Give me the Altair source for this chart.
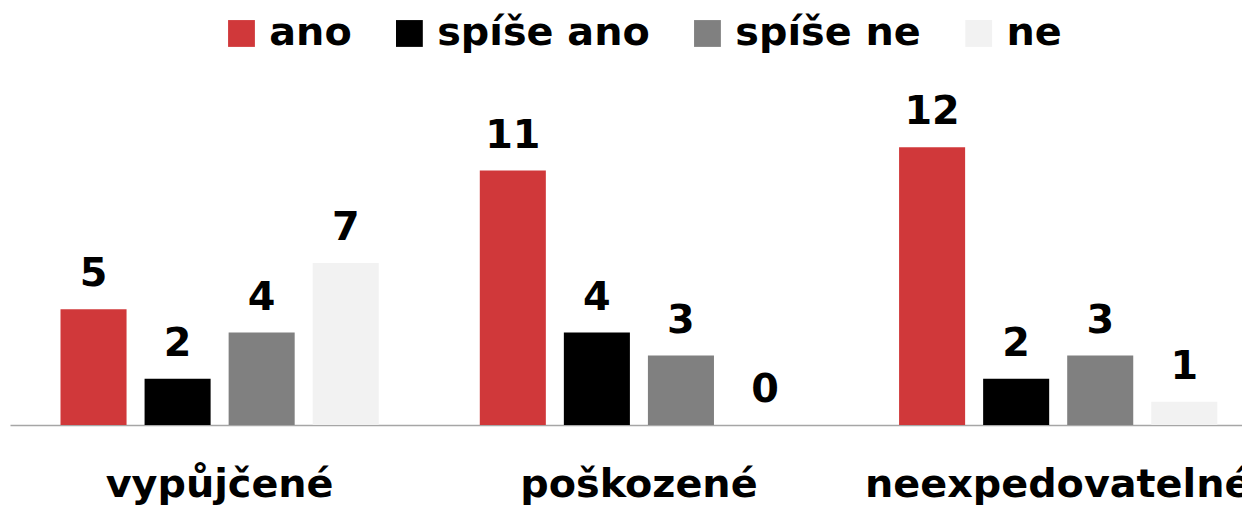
import altair as alt
import pandas as pd

categories = ["vypůjčené", "poškozené", "neexpedovatelné"]
series = ["ano", "spíše ano", "spíše ne", "ne"]
ano = [5, 11, 12]
spise_ano = [2, 4, 2]
spise_ne = [4, 3, 3]
ne = [7, 0, 1]
colors = ["#d0383a", "#000000", "#808080", "#f2f2f2"]

rows = []
for i, c in enumerate(categories):
    for s, vals in zip(series, [ano, spise_ano, spise_ne, ne]):
        rows.append({"kategorie": c, "odpoved": s, "pocet": vals[i]})
df = pd.DataFrame(rows)

FONT = "DejaVu Sans"
FS = 40

x = alt.X(
    "kategorie:N",
    sort=categories,
    scale=alt.Scale(range=[0, 1266], paddingInner=0, paddingOuter=0),
    axis=alt.Axis(
        title=None, labelAngle=0, ticks=False, labelPadding=40,
        labelFontSize=FS, labelFont=FONT, labelFontWeight="bold",
        labelColor="black", domainColor="#a6a6a6", domainWidth=1.5,
        labelLimit=0,
    ),
)
xo = alt.XOffset(
    "odpoved:N", sort=series,
    scale=alt.Scale(paddingInner=0.2143, paddingOuter=0.601),
)
y = alt.Y("pocet:Q", scale=alt.Scale(domain=[0, 14], nice=False), axis=None)

bars = alt.Chart(df).mark_bar().encode(
    x=x, xOffset=xo, y=y,
    color=alt.Color(
        "odpoved:N", sort=series,
        scale=alt.Scale(domain=series, range=colors),
        legend=alt.Legend(
            title=None, orient="none", legendX=213, legendY=-88,
            direction="horizontal", symbolType="square", symbolSize=729,
            symbolStrokeWidth=0, labelFont=FONT, labelFontSize=FS,
            labelFontWeight="bold", labelColor="black", labelOffset=8,
            columnPadding=38, labelLimit=0,
        ),
    ),
)

text = alt.Chart(df).mark_text(
    dy=-23, baseline="alphabetic", font=FONT, fontWeight="bold",
    fontSize=FS, color="black",
).encode(x=x, xOffset=xo, y=y, text="pocet:Q")

chart = alt.layer(bars, text).properties(
    width=1240, height=326,
    padding={"left": 2, "top": 92, "right": 0, "bottom": 90},
    autosize=alt.AutoSizeParams(type="none"),
).configure_view(stroke=None)

chart.save("out.html", embed_options={"renderer": "svg", "actions": False})
